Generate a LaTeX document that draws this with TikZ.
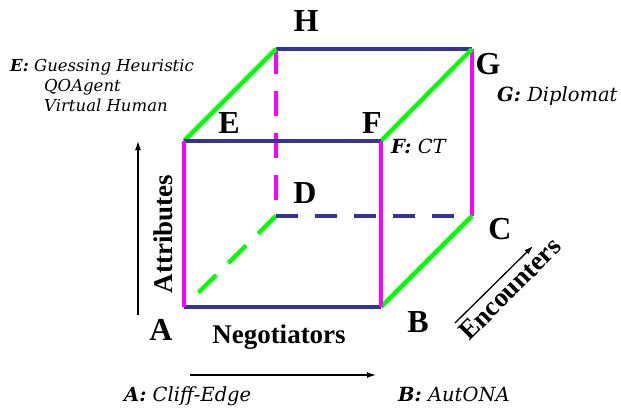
\documentclass[tikz,border=0pt]{standalone}
\usepackage{fontspec}
\setmainfont{Liberation Serif}
\newfontfamily\notefont{DejaVu Serif}
\usetikzlibrary{arrows.meta}
\definecolor{cblue}{RGB}{51,51,153}
\definecolor{cmag}{RGB}{255,0,255}
\definecolor{cgreen}{RGB}{0,255,0}
\tikzset{
  edge/.style={line width=4.3pt},
  bl/.style={edge,draw=cblue},
  mg/.style={edge,draw=cmag},
  gr/.style={edge,draw=cgreen},
  dsh/.style={dash pattern=on 25pt off 17pt},
  corner/.style={font=\fontsize{32}{34}\selectfont\bfseries,inner sep=0pt},
  axis/.style={font=\fontsize{27}{30}\selectfont\bfseries,inner sep=0pt},
  note/.style={font=\fontsize{16.5}{19}\notefont\itshape,inner sep=0pt,anchor=base west},
  bignote/.style={note,font=\fontsize{19.5}{22}\notefont\itshape},
  axarrow/.style={line width=1.3pt,-{Latex[length=9pt,width=6pt]}},
}
\begin{document}
\begin{tikzpicture}[x=1pt,y=-1pt]
\useasboundingbox (0,0) rectangle (621,412);
% vertices
\coordinate (A) at (184,307);
\coordinate (B) at (381,307);
\coordinate (F) at (381,141);
\coordinate (E) at (184,141);
\coordinate (D) at (276,216);
\coordinate (C) at (472,216);
\coordinate (G) at (472,49);
\coordinate (H) at (276,49);
\coordinate (As) at (195,296);
% hidden edges
\draw[gr,dsh] (D) -- (As);
\draw[bl,dash pattern=on 22pt off 17pt] (D) -- (C);
\draw[mg,dsh] (H) -- (D);
% back visible
\draw[bl] (H) -- (G);
\draw[mg] (G) -- (C);
\draw[gr] (E) -- (H);
\draw[gr] (F) -- (G);
\draw[gr] (B) -- (C);
% front face
\draw[bl] (A) -- (B);
\draw[bl] (E) -- (F);
\draw[mg] (A) -- (E);
\draw[mg] (B) -- (F);
% corner labels
\node[corner] (lH) at (306,21) {H};
\node[corner] (lG) at (488,64) {G};
\node[corner] (lE) at (229,123) {E};
\node[corner] (lF) at (372,123) {F};
\node[corner] (lD) at (305,193) {D};
\node[corner] (lC) at (500,229) {C};
\node[corner] (lB) at (418,322) {B};
\node[corner] (lA) at (161,330) {A};
% axis labels
\node[axis] (neg) at (279,337) {Negotiators};
\node[axis,rotate=90] (att) at (163,234) {Attributes};
\node[axis,rotate=45] (enc) at (510,289) {Encounters};
% axis arrows
\coordinate (u0) at (138,315);
\coordinate (u1) at (138,141);
\draw[axarrow] (u0) -- (u1);
\coordinate (r0) at (190,375);
\coordinate (r1) at (376,375);
\draw[axarrow] (r0) -- (r1);
\coordinate (d0) at (455,323);
\coordinate (d1) at (533,246);
\draw[axarrow] (d0) -- (d1);
% notes
\node[note] (nE) at (10,72) {\textbf{E:} Guessing Heuristic};
\node[note] (nE2) at (44,92) {QOAgent};
\node[note] (nE3) at (44,111) {Virtual Human};
\node[bignote] (nG) at (497,101) {\textbf{G:} Diplomat};
\node[bignote] (nF) at (391,153) {\textbf{F:} CT};
\node[bignote] (nA) at (124,401) {\textbf{A:} Cliff-Edge};
\node[bignote] (nB) at (398,401) {\textbf{B:} AutONA};
\end{tikzpicture}
\end{document}
